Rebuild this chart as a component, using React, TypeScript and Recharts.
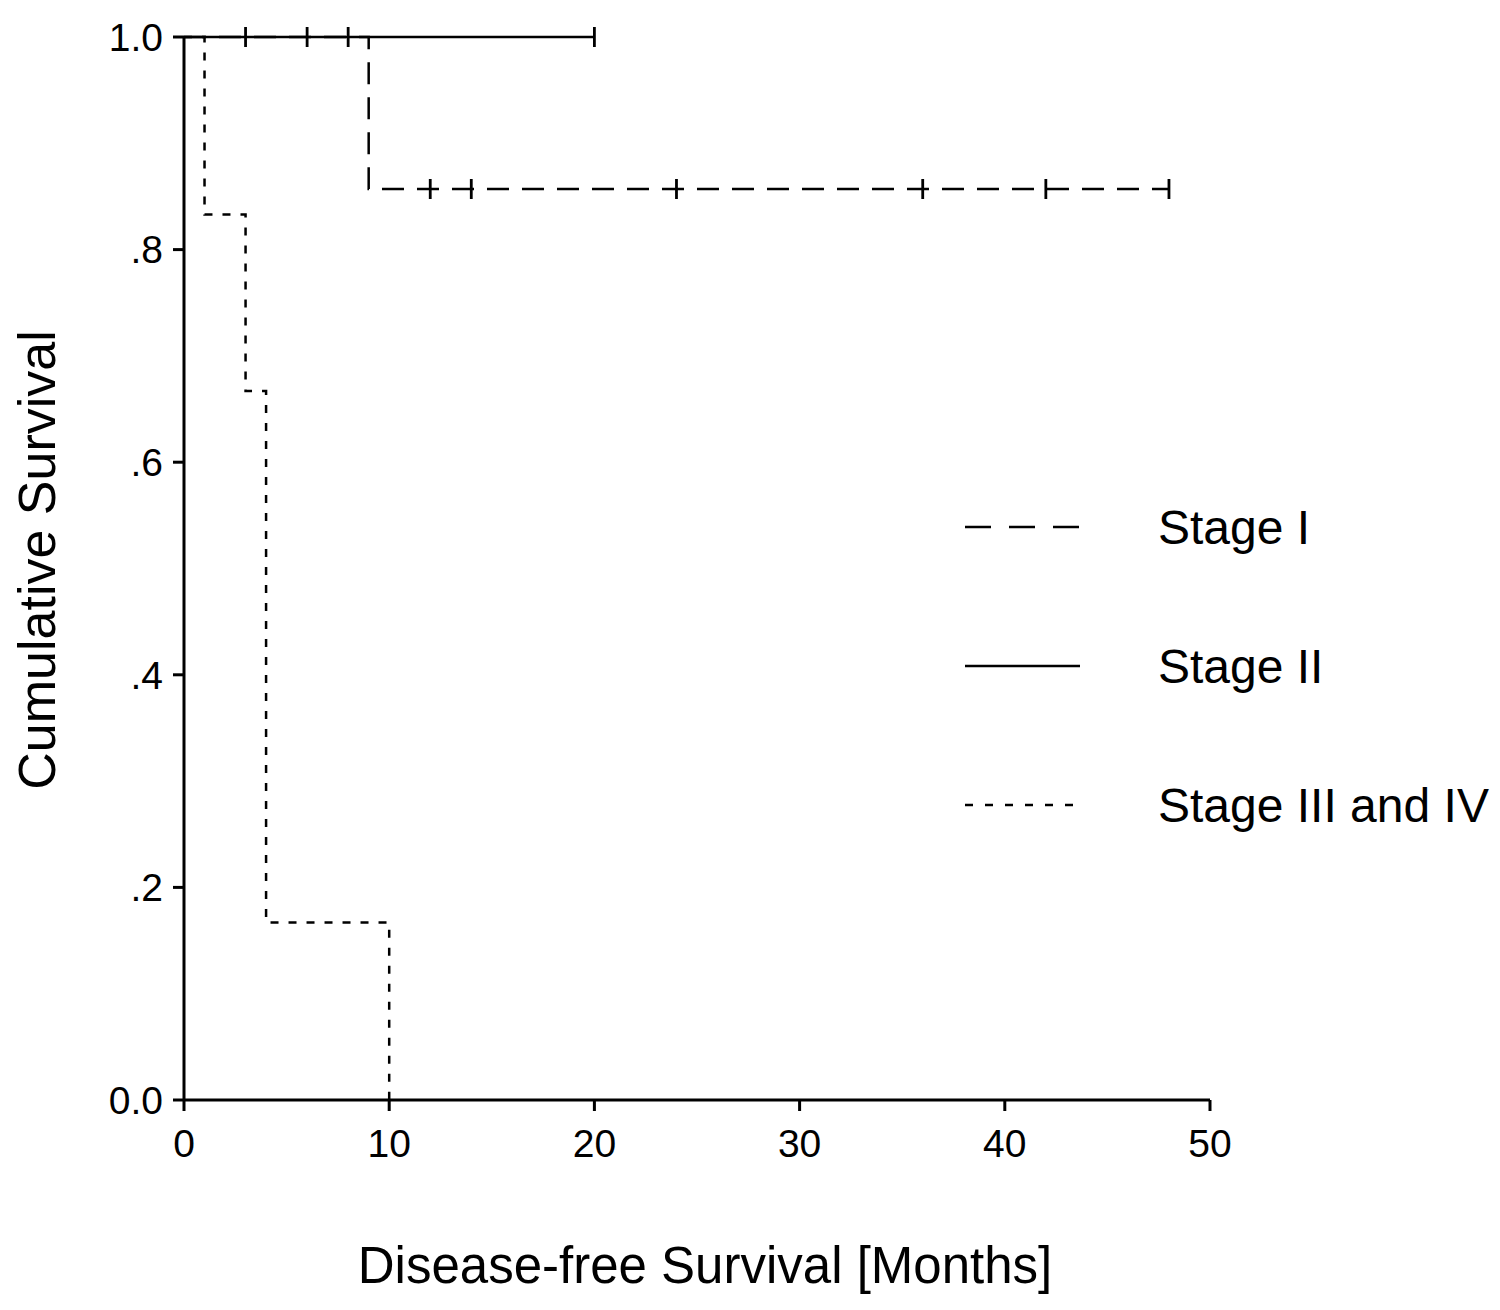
import React from 'react';
import { LineChart, Line, XAxis, YAxis, Legend } from 'recharts';

// Kaplan-Meier steps: t = month, s = cumulative survival, c = censored mark
const stageOne = [
    { t: 0, s: 1, c: false },
    { t: 9, s: 0.857, c: false },
    { t: 12, s: 0.857, c: true },
    { t: 14, s: 0.857, c: true },
    { t: 24, s: 0.857, c: true },
    { t: 36, s: 0.857, c: true },
    { t: 42, s: 0.857, c: true },
    { t: 48, s: 0.857, c: true },
];

const stageTwo = [
    { t: 0, s: 1, c: false },
    { t: 3, s: 1, c: true },
    { t: 6, s: 1, c: true },
    { t: 8, s: 1, c: true },
    { t: 20, s: 1, c: true },
];

const stageThreeFour = [
    { t: 0, s: 1, c: false },
    { t: 1, s: 0.833, c: false },
    { t: 3, s: 0.667, c: false },
    { t: 4, s: 0.167, c: false },
    { t: 10, s: 0, c: false },
];

const xTicks = [0, 10, 20, 30, 40, 50];
const yTicks = [0, 0.2, 0.4, 0.6, 0.8, 1];
const yTickLabels = ['0.0', '.2', '.4', '.6', '.8', '1.0'];

const series = [
    { name: 'Stage I', data: stageOne, dash: '22 13', legendDash: '26 18' },
    { name: 'Stage II', data: stageTwo, dash: undefined, legendDash: undefined },
    { name: 'Stage III and IV', data: stageThreeFour, dash: '8 10', legendDash: '8 12' },
];

const FONT = '"Liberation Sans", Arial, sans-serif';

const CensorMark = (props: any) => {
    const { cx, cy, payload, index } = props;
    if (!payload?.c) return <g key={`n-${index}`} />;
    return <line key={`c-${index}`} x1={cx} x2={cx} y1={cy - 10} y2={cy + 10} stroke="#000" strokeWidth={2.8} />;
};

const StageLegend = () => (
    <svg width={560} height={400}>
        {series.map((s, i) => {
            const y = 49 + i * 139;
            return (
                <g key={s.name}>
                    <line x1={17} x2={132} y1={y} y2={y} stroke="#000" strokeWidth={2.5} strokeDasharray={s.legendDash} />
                    <text x={210} y={y + 17} fontSize={48} fontFamily={FONT} fill="#000">
                        {s.name}
                    </text>
                </g>
            );
        })}
    </svg>
);

const XTitle = ({ viewBox }: any) => (
    <text x={viewBox.x + viewBox.width / 2 + 8} y={1275} textAnchor="middle" fontSize={51} fontFamily={FONT} fill="#000">
        Disease-free Survival [Months]
    </text>
);

const YTitle = () => (
    <text x={47} y={552} transform="rotate(-90 47 552)" textAnchor="middle" fontSize={52} fontFamily={FONT} fill="#000">
        Cumulative Survival
    </text>
);

export default function App() {
    return (
        <LineChart width={1492} height={1300} margin={{ top: 29, right: 290, bottom: 0, left: 0 }}>
            <XAxis
                type="number"
                dataKey="t"
                domain={[0, 50]}
                ticks={xTicks}
                allowDataOverflow
                height={208}
                tickSize={11}
                tickMargin={18}
                axisLine={{ stroke: '#000', strokeWidth: 3 }}
                tickLine={{ stroke: '#000', strokeWidth: 3 }}
                tick={{ fill: '#000', fontSize: 39, fontFamily: FONT }}
                label={<XTitle />}
            />
            <YAxis
                type="number"
                dataKey="s"
                domain={[0, 1]}
                ticks={yTicks}
                width={176}
                tickSize={11}
                tickMargin={10}
                tickFormatter={(v: number) => yTickLabels[yTicks.indexOf(v)] ?? String(v)}
                axisLine={{ stroke: '#000', strokeWidth: 3 }}
                tickLine={{ stroke: '#000', strokeWidth: 3 }}
                tick={{ fill: '#000', fontSize: 39, fontFamily: FONT }}
                label={<YTitle />}
            />
            <Legend
                layout="horizontal"
                verticalAlign="middle"
                align="center"
                content={<StageLegend />}
                wrapperStyle={{ position: 'absolute', left: 940, top: 470, width: 560, height: 400 }}
            />
            {series.map((s) => (
                <Line
                    key={s.name}
                    name={s.name}
                    data={s.data}
                    dataKey="s"
                    type="stepAfter"
                    stroke="#000"
                    strokeWidth={2.5}
                    strokeDasharray={s.dash}
                    dot={CensorMark}
                    activeDot={false}
                    isAnimationActive={false}
                />
            ))}
        </LineChart>
    );
}
